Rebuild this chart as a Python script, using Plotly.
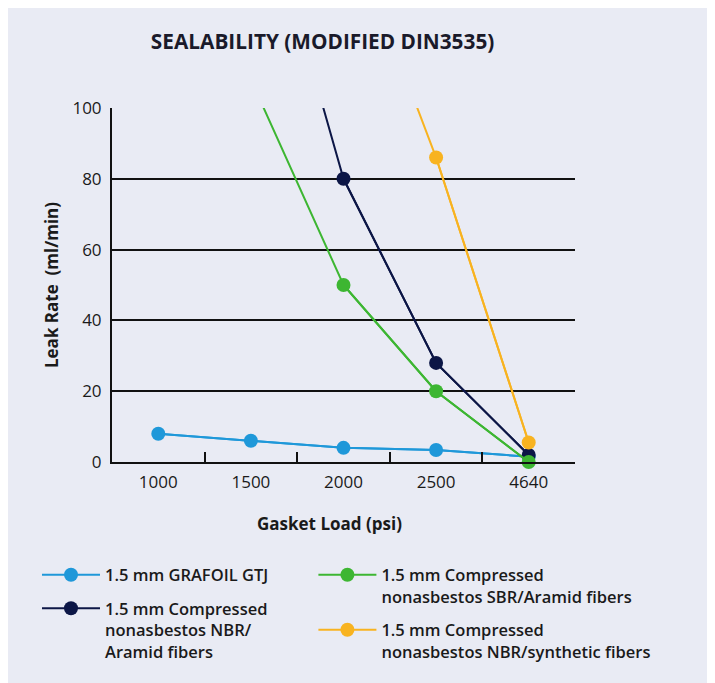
import plotly.graph_objects as go

loads = ["1000", "1500", "2000", "2500", "4640"]
grafoil = [8, 6, 4, 3.4, 1.5]
nbr_aramid = [None, 172, 80, 28, 2]
sbr_aramid = [None, 108, 50, 20, 0]
nbr_synth = [None, None, 155, 86, 5.5]

names = [
    "1.5 mm GRAFOIL GTJ",
    "1.5 mm Compressed<br>nonasbestos NBR/<br>Aramid fibers",
    "1.5 mm Compressed<br>nonasbestos SBR/Aramid fibers",
    "1.5 mm Compressed<br>nonasbestos NBR/synthetic fibers",
]
colors = ["#1f98d9", "#0c1646", "#3db632", "#f8b320"]
series = [grafoil, nbr_aramid, sbr_aramid, nbr_synth]
legends = ["legend", "legend", "legend2", "legend2"]

BG = "#e9ebf4"
FONT = "Open Sans"
YMAX = 100

fig = go.Figure()
for i, (name, vals, col, lg) in enumerate(zip(names, series, colors, legends)):
    # full line (continues beyond the top of the plot, clipped there)
    fig.add_trace(go.Scatter(
        x=loads, y=vals, mode="lines", line=dict(color=col, width=2),
        showlegend=False, hoverinfo="skip", legend=lg, legendgroup=f"g{i}",
    ))
    # markers for the points inside the visible range
    inside = [v if (v is not None and v <= YMAX) else None for v in vals]
    fig.add_trace(go.Scatter(
        x=loads, y=inside, name=name, mode="lines+markers",
        line=dict(color=col, width=2),
        marker=dict(color=col, size=14),
        cliponaxis=False, legend=lg, legendgroup=f"g{i}", connectgaps=False,
    ))

legfont = dict(size=16.5, family=FONT, color="#1a1a1a", weight=600)
fig.update_layout(
    width=715, height=683,
    paper_bgcolor=BG, plot_bgcolor=BG,
    margin=dict(l=104, r=148, t=100, b=229),
    font=dict(family=FONT, color="#1a1a1a", size=14),
    title=dict(text="<b>SEALABILITY (MODIFIED DIN3535)</b>", x=0.44, xanchor="center",
               y=0.951, yanchor="middle", font=dict(size=20.8, family=FONT, color="#1a1a2a")),
    showlegend=True,
    legend=dict(x=-0.162, xanchor="left", y=-0.27, yanchor="top", orientation="v",
                font=legfont, traceorder="grouped", tracegroupgap=9,
                bgcolor="rgba(0,0,0,0)", valign="top", itemwidth=58),
    legend2=dict(x=0.435, xanchor="left", y=-0.27, yanchor="top", orientation="v",
                 font=legfont, traceorder="grouped", tracegroupgap=9,
                 bgcolor="rgba(0,0,0,0)", valign="top", itemwidth=58),
    annotations=[dict(text="<b>Gasket Load (psi)</b>", xref="paper", yref="paper",
                      x=0.469, y=-0.174, xanchor="center", yanchor="middle", showarrow=False,
                      font=dict(size=17, family=FONT, color="#1a1a1a"))],
)

fig.update_xaxes(
    type="category", range=[-0.5, 4.5],
    showline=True, linecolor="#111111", linewidth=2,
    ticks="inside", tickson="boundaries", ticklen=10, tickwidth=2, tickcolor="#111111",
    showgrid=False, zeroline=False, ticklabelstandoff=4,
    tickfont=dict(size=17, family=FONT, color="#1a1a1a"),
)
fig.update_yaxes(
    range=[0, YMAX], tickvals=[0, 20, 40, 60, 80, 100],
    showline=True, linecolor="#111111", linewidth=2,
    showgrid=True, gridcolor="#111111", gridwidth=2, zeroline=False,
    ticks="", ticklabelstandoff=5, tickfont=dict(size=17, family=FONT, color="#1a1a1a"),
    title=dict(text="<b>Leak Rate  (ml/min)</b>", font=dict(size=17, family=FONT), standoff=9),
)

fig.write_html("out.html")
